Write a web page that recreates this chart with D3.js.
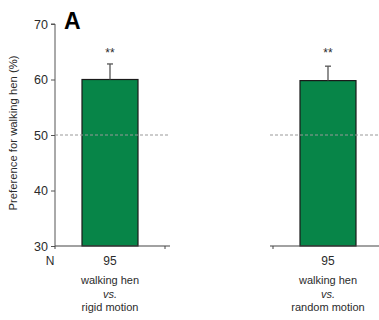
<!DOCTYPE html>
<html>
<head>
<meta charset="utf-8">
<script src="https://cdn.jsdelivr.net/npm/d3@7"></script>
<style>
  body { margin: 0; background: #fff; }
  text { font-family: "Liberation Sans", Arial, sans-serif; fill: #2b2b2b; }
</style>
</head>
<body>
<div id="chart"></div>
<script>
const comparisons = ['rigid motion', 'random motion'];
const preference = [60.0, 59.8];
const errTop = [62.8, 62.4];
const sampleN = [95, 95];
const stars = ['**', '**'];
const yTicks = [30, 40, 50, 60, 70];

const width = 379;
const height = 320;
const barWidth = 56;

const yScale = d3.scaleLinear().domain([30, 70]).range([246, 24]);
const xScale = d3.scalePoint().domain(comparisons).range([110, 328]);

// each comparison sits on its own little axis piece
const panels = [[55, 170], [270, 379]];

const svg = d3.select('#chart').append('svg')
  .attr('width', width).attr('height', height);

const yAxis = d3.axisLeft(yScale).tickValues(yTicks).tickSize(4).tickPadding(3);
svg.append('g')
  .attr('transform', 'translate(55,0)')
  .call(yAxis)
  .call(g => g.select('.domain').attr('stroke', '#555').attr('d', `M-4,${yScale(70)}H0V${yScale(30)}`))
  .call(g => g.selectAll('.tick line').attr('stroke', '#555'))
  .call(g => g.selectAll('.tick text').style('font-size', '12.5px').attr('fill', '#2b2b2b'));

svg.append('text')
  .attr('transform', 'rotate(-90)')
  .attr('x', -133)
  .attr('y', 17)
  .style('text-anchor', 'middle')
  .style('font-size', '11.3px')
  .text('Preference for walking hen (%)');

svg.append('text')
  .attr('x', 64).attr('y', 29)
  .style('font-size', '23px').style('font-weight', 'bold')
  .style('fill', '#000')
  .text('A');

svg.append('text')
  .attr('x', 50).attr('y', 265)
  .style('text-anchor', 'middle').style('font-size', '12px')
  .text('N');

comparisons.forEach((c, i) => {
  const [x0, x1] = panels[i];
  const cx = xScale(c);
  const g = svg.append('g');

  g.append('rect')
    .attr('x', cx - barWidth / 2).attr('width', barWidth)
    .attr('y', yScale(preference[i]))
    .attr('height', yScale(30) - yScale(preference[i]))
    .attr('fill', '#078548')
    .attr('stroke', '#1a1a1a').attr('stroke-width', 1.2);

  g.append('line')
    .attr('x1', cx).attr('x2', cx)
    .attr('y1', yScale(preference[i])).attr('y2', yScale(errTop[i]))
    .attr('stroke', '#555').attr('stroke-width', 1.3);
  g.append('line')
    .attr('x1', cx - 3).attr('x2', cx + 3)
    .attr('y1', yScale(errTop[i])).attr('y2', yScale(errTop[i]))
    .attr('stroke', '#555').attr('stroke-width', 1.3);

  g.append('text')
    .attr('x', cx).attr('y', 57)
    .style('text-anchor', 'middle').style('font-size', '12px')
    .text(stars[i]);

  g.append('line')
    .attr('x1', x0).attr('x2', x1)
    .attr('y1', yScale(50)).attr('y2', yScale(50))
    .attr('stroke', '#999').attr('stroke-width', 1)
    .attr('stroke-dasharray', '3,2');

  // baseline with small end ticks
  g.append('line')
    .attr('x1', x0).attr('x2', x1)
    .attr('y1', yScale(30)).attr('y2', yScale(30))
    .attr('stroke', '#444').attr('stroke-width', 1.2);
  const tickXs = i === 0 ? [x0, x1 - 5] : [x0 + 3];
  tickXs.forEach(tx => g.append('line')
    .attr('x1', tx).attr('x2', tx)
    .attr('y1', yScale(30)).attr('y2', yScale(30) + 3)
    .attr('stroke', '#444'));

  g.append('text')
    .attr('x', cx).attr('y', 265)
    .style('text-anchor', 'middle').style('font-size', '12px')
    .text(sampleN[i]);

  const lab = g.append('text')
    .attr('x', cx).attr('y', 284)
    .style('text-anchor', 'middle').style('font-size', '11px');
  lab.append('tspan').attr('x', cx).attr('dy', 0).text('walking hen');
  lab.append('tspan').attr('x', cx).attr('dy', 14).style('font-style', 'italic').text('vs.');
  lab.append('tspan').attr('x', cx).attr('dy', 13).text(c);
});
</script>
</body>
</html>
